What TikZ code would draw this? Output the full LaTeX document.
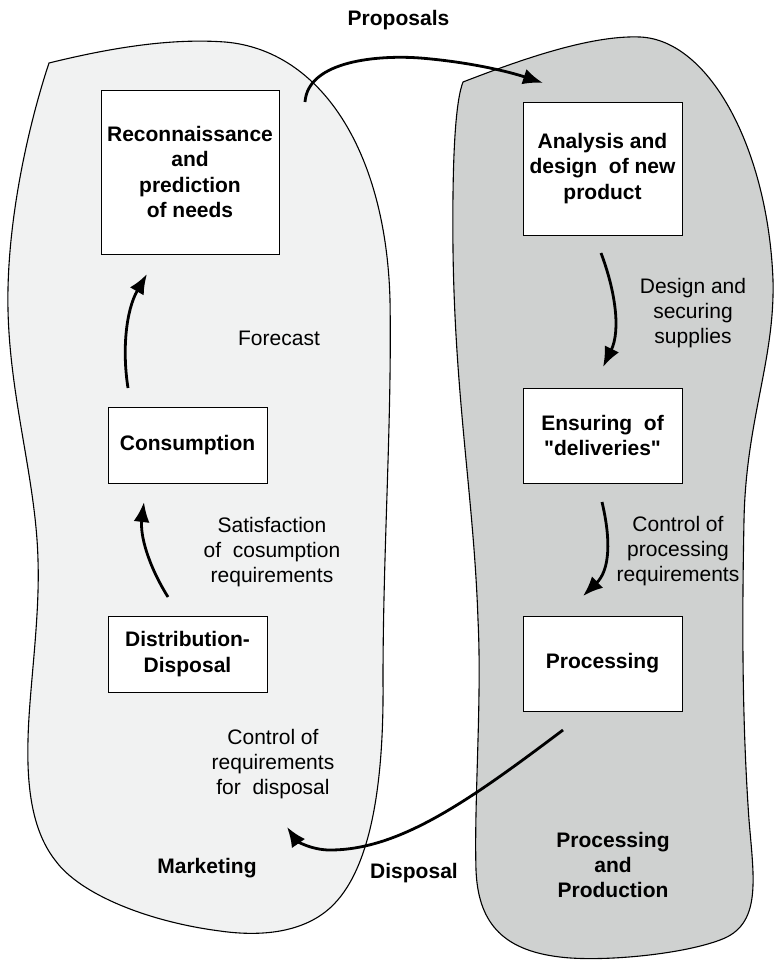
\documentclass[tikz,border=0pt]{standalone}
\usepackage{fontspec}
\setmainfont{Liberation Sans}[Ligatures=TeXOff]
\usetikzlibrary{arrows.meta}
\definecolor{leftfill}{RGB}{241,242,242}
\definecolor{rightfill}{RGB}{207,209,208}
\begin{document}
\begin{tikzpicture}[x=1pt,y=-1pt,
  every node/.style={font=\fontsize{21}{25}\selectfont, align=center, inner sep=0pt},
  procbox/.style={draw=black, fill=white, line width=1pt, font=\fontsize{21}{25.5}\selectfont\bfseries},
  boldlbl/.style={font=\fontsize{21}{25}\selectfont\bfseries},
  flow/.style={line width=2.8pt, -{Latex[length=20pt,width=16pt]}},
  blob/.style={draw=black, line width=1.1pt}]
\useasboundingbox (0,0) rectangle (774,961);

% blobs
\path[blob, fill=leftfill] (49,63) .. controls (110,48) and (170,38) .. (225,42)
  .. controls (320,50) and (386,150) .. (390,300)
  .. controls (392,420) and (383,550) .. (383,680)
  .. controls (384,780) and (372,870) .. (330,908)
  .. controls (300,935) and (255,936) .. (220,931)
  .. controls (150,922) and (80,895) .. (55,860)
  .. controls (30,828) and (27,780) .. (28,740)
  .. controls (29,690) and (40,620) .. (38,560)
  .. controls (36,480) and (10,400) .. (8,310)
  .. controls (6,220) and (30,120) .. (49,63) -- cycle;

\path[blob, fill=rightfill] (463,82) .. controls (520,60) and (590,35) .. (640,37)
  .. controls (710,40) and (768,150) .. (773,280)
  .. controls (775,360) and (746,420) .. (744,520)
  .. controls (742,620) and (742,720) .. (749,820)
  .. controls (754,880) and (762,925) .. (720,940)
  .. controls (680,955) and (600,962) .. (560,957)
  .. controls (500,950) and (478,920) .. (476,870)
  .. controls (474,800) and (482,700) .. (478,620)
  .. controls (474,500) and (455,400) .. (453,250)
  .. controls (452,150) and (456,100) .. (463,82) -- cycle;

% boxes
\node[procbox, minimum width=178pt, minimum height=164pt] (recon) at (190,172) {Reconnaissance\\and\\prediction\\of needs};
\node[procbox, minimum width=159pt, minimum height=133pt] (anal) at (602.5,168.5) {Analysis and\\design~ of new\\product};
\node[procbox, minimum width=159pt, minimum height=76pt] (cons) at (187.5,445) {Consumption};
\node[procbox, minimum width=159pt, minimum height=95pt] (ens) at (602.5,435.5) {Ensuring~ of\\"deliveries"};
\node[procbox, minimum width=159pt, minimum height=76pt] (dist) at (187.5,654) {Distribution-\\Disposal};
\node[procbox, minimum width=159pt, minimum height=95pt] (proc) at (602.5,663.5) {Processing};

% labels
\node[boldlbl] (lprop) at (398.5,20) {Proposals};
\node (lfore) at (279,338) {Forecast};
\node (lsat) at (272,552) {Satisfaction\\of~ cosumption\\requirements};
\node (ldes) at (693,313) {Design and\\securing\\supplies};
\node (lcpr) at (678,551) {Control of\\processing\\requirements};
\node (lcdis) at (273,764) {Control of\\requirements\\for~ disposal};
\node[boldlbl] (ldisp) at (414,873) {Disposal};
\node[boldlbl] (lmark) at (207,868) {Marketing};
\node[boldlbl] (lpp) at (613,865) {Processing\\and\\Production};

% connector end points
\coordinate (p1) at (305,102);
\coordinate (p2) at (543,83);
\coordinate (f1) at (128,388);
\coordinate (f2) at (147,274);
\coordinate (s1) at (168,597);
\coordinate (s2) at (144,502);
\coordinate (d1) at (601,253);
\coordinate (d2) at (603,367);
\coordinate (c1) at (602,502);
\coordinate (c2) at (583,596);
\coordinate (x1) at (563,730);
\coordinate (x2) at (287,827);

% connectors
\draw[flow] (p1) .. controls (308,60) and (380,55) .. (420,58) .. controls (470,62) and (510,72) .. (p2);
\draw[flow] (f1) .. controls (122,350) and (126,310) .. (f2);
\draw[flow] (s1) .. controls (148,565) and (140,535) .. (s2);
\draw[flow] (d1) .. controls (615,290) and (621,330) .. (d2);
\draw[flow] (c1) .. controls (611,540) and (610,570) .. (c2);
\draw[flow] (x1) .. controls (470,800) and (400,850) .. (330,850) .. controls (310,850) and (296,840) .. (x2);
\end{tikzpicture}
\end{document}
